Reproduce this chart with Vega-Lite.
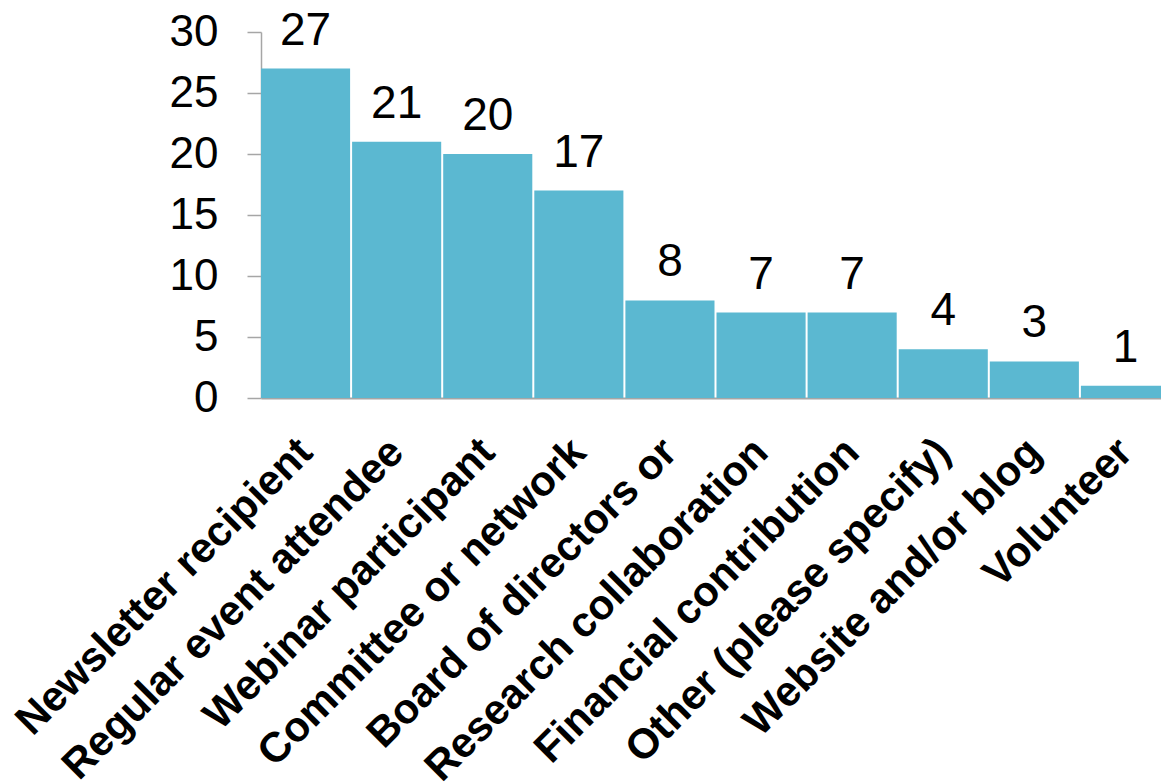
{
  "$schema": "https://vega.github.io/schema/vega-lite/v6.json",
  "width": 900,
  "height": 366,
  "autosize": {"type": "none"},
  "padding": {"left": 261, "top": 32, "right": 0, "bottom": 386},
  "background": "white",
  "config": {"view": {"stroke": null}, "font": "Liberation Sans"},
  "data": {
    "values": [
      {"category": "Newsletter recipient", "count": 27},
      {"category": "Regular event attendee", "count": 21},
      {"category": "Webinar participant", "count": 20},
      {"category": "Committee or network", "count": 17},
      {"category": "Board of directors or", "count": 8},
      {"category": "Research collaboration", "count": 7},
      {"category": "Financial contribution", "count": 7},
      {"category": "Other (please specify)", "count": 4},
      {"category": "Website and/or blog", "count": 3},
      {"category": "Volunteer", "count": 1}
    ]
  },
  "encoding": {
    "x": {
      "field": "category",
      "type": "nominal",
      "sort": null,
      "scale": {"range": [0, 909], "paddingInner": 0.022, "paddingOuter": 0},
      "axis": {
        "title": null,
        "ticks": false,
        "domainColor": "#A6A6A6",
        "domainWidth": 2,
        "labelAngle": -45,
        "labelAlign": "right",
        "labelBaseline": "middle",
        "labelFontSize": 42,
        "labelFontWeight": "bold",
        "labelColor": "black",
        "labelPadding": 47,
        "labelLimit": 0,
        "labelOverlap": false
      }
    },
    "y": {
      "field": "count",
      "type": "quantitative",
      "scale": {"domain": [0, 30], "nice": false},
      "axis": {
        "title": null,
        "grid": false,
        "values": [0, 5, 10, 15, 20, 25, 30],
        "domainColor": "#A6A6A6",
        "domainWidth": 1.5,
        "tickColor": "#A6A6A6",
        "tickWidth": 1.5,
        "tickSize": 14,
        "labelFontSize": 44,
        "labelColor": "black",
        "labelPadding": 29
      }
    }
  },
  "layer": [
    {"mark": {"type": "bar", "color": "#5BB8D1"}},
    {
      "mark": {"type": "text", "baseline": "alphabetic", "dy": -24, "fontSize": 46, "color": "black"},
      "encoding": {"text": {"field": "count", "type": "quantitative"}}
    }
  ]
}
